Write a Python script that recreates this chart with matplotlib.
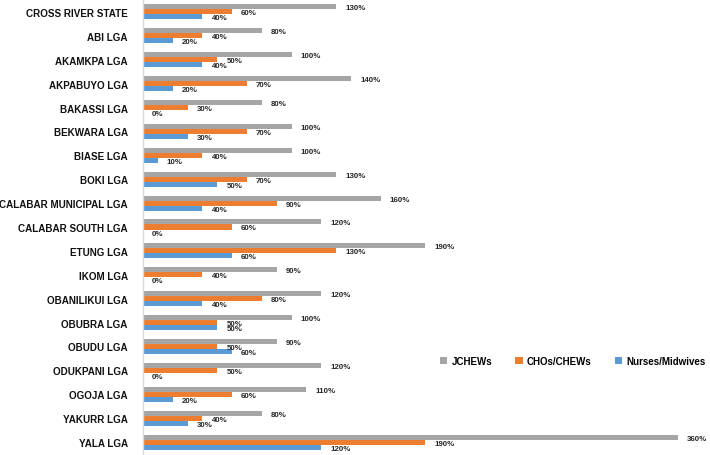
import matplotlib
matplotlib.use("Agg")
import matplotlib.pyplot as plt
import numpy as np

categories = ["CROSS RIVER STATE", "ABI LGA", "AKAMKPA LGA", "AKPABUYO LGA", "BAKASSI LGA",
              "BEKWARA LGA", "BIASE LGA", "BOKI LGA", "CALABAR MUNICIPAL LGA", "CALABAR SOUTH LGA",
              "ETUNG LGA", "IKOM LGA", "OBANILIKUI LGA", "OBUBRA LGA", "OBUDU LGA",
              "ODUKPANI LGA", "OGOJA LGA", "YAKURR LGA", "YALA LGA"]
jchews = [130, 80, 100, 140, 80, 100, 100, 130, 160, 120, 190, 90, 120, 100, 90, 120, 110, 80, 360]
chos_chews = [60, 40, 50, 70, 30, 70, 40, 70, 90, 60, 130, 40, 80, 50, 50, 50, 60, 40, 190]
nurses = [40, 20, 40, 20, 0, 30, 10, 50, 40, 0, 60, 0, 40, 50, 60, 0, 20, 30, 120]
series_names = ["JCHEWs", "CHOs/CHEWs", "Nurses/Midwives"]
colors = ["#A5A5A5", "#ED7D31", "#5B9BD5"]

plt.rcParams['font.family'] = ["Liberation Sans", "DejaVu Sans"]

fig = plt.figure(figsize=(7.1, 4.56), dpi=100)
ax = fig.add_axes([143/710, 1/456, 567/710, 454/456])

n = len(categories)
y = np.arange(n)
h = 0.21
series = [jchews, chos_chews, nurses]
offsets = [-h, 0, h]
for vals, name, col, off in zip(series, series_names, colors, offsets):
    ax.barh(y + off, vals, height=h, color=col, label=name)
    for yy, v in zip(y + off, vals):
        ax.annotate(f"{v}%", xy=(v, yy), xytext=(9, -1), textcoords="offset pixels",
                    ha="left", va="center", fontsize=5.7, fontweight="bold",
                    color="#262626")

ax.set_ylim(n - 0.5, -0.5)
ax.set_xlim(0, 567/148.6*100)
ax.set_yticks(y)
ax.set_yticklabels(categories, fontsize=7.1, fontweight="bold", color="#111111")
ax.tick_params(axis="y", length=0, pad=11)
ax.set_xticks([])
for s in ["top", "right", "bottom"]:
    ax.spines[s].set_visible(False)
ax.spines["left"].set_color("#D9D9D9")
ax.spines["left"].set_linewidth(1.0)

leg = ax.legend(loc="center left", ncol=3, frameon=False,
                handlelength=0.75, handleheight=0.75, handletextpad=0.45, columnspacing=2.4,
                prop={"weight": "bold", "size": 7.0})
leg.set_bbox_to_anchor((431/710, 1 - 362/456), transform=fig.transFigure)

fig.savefig("out.png", dpi=100)
